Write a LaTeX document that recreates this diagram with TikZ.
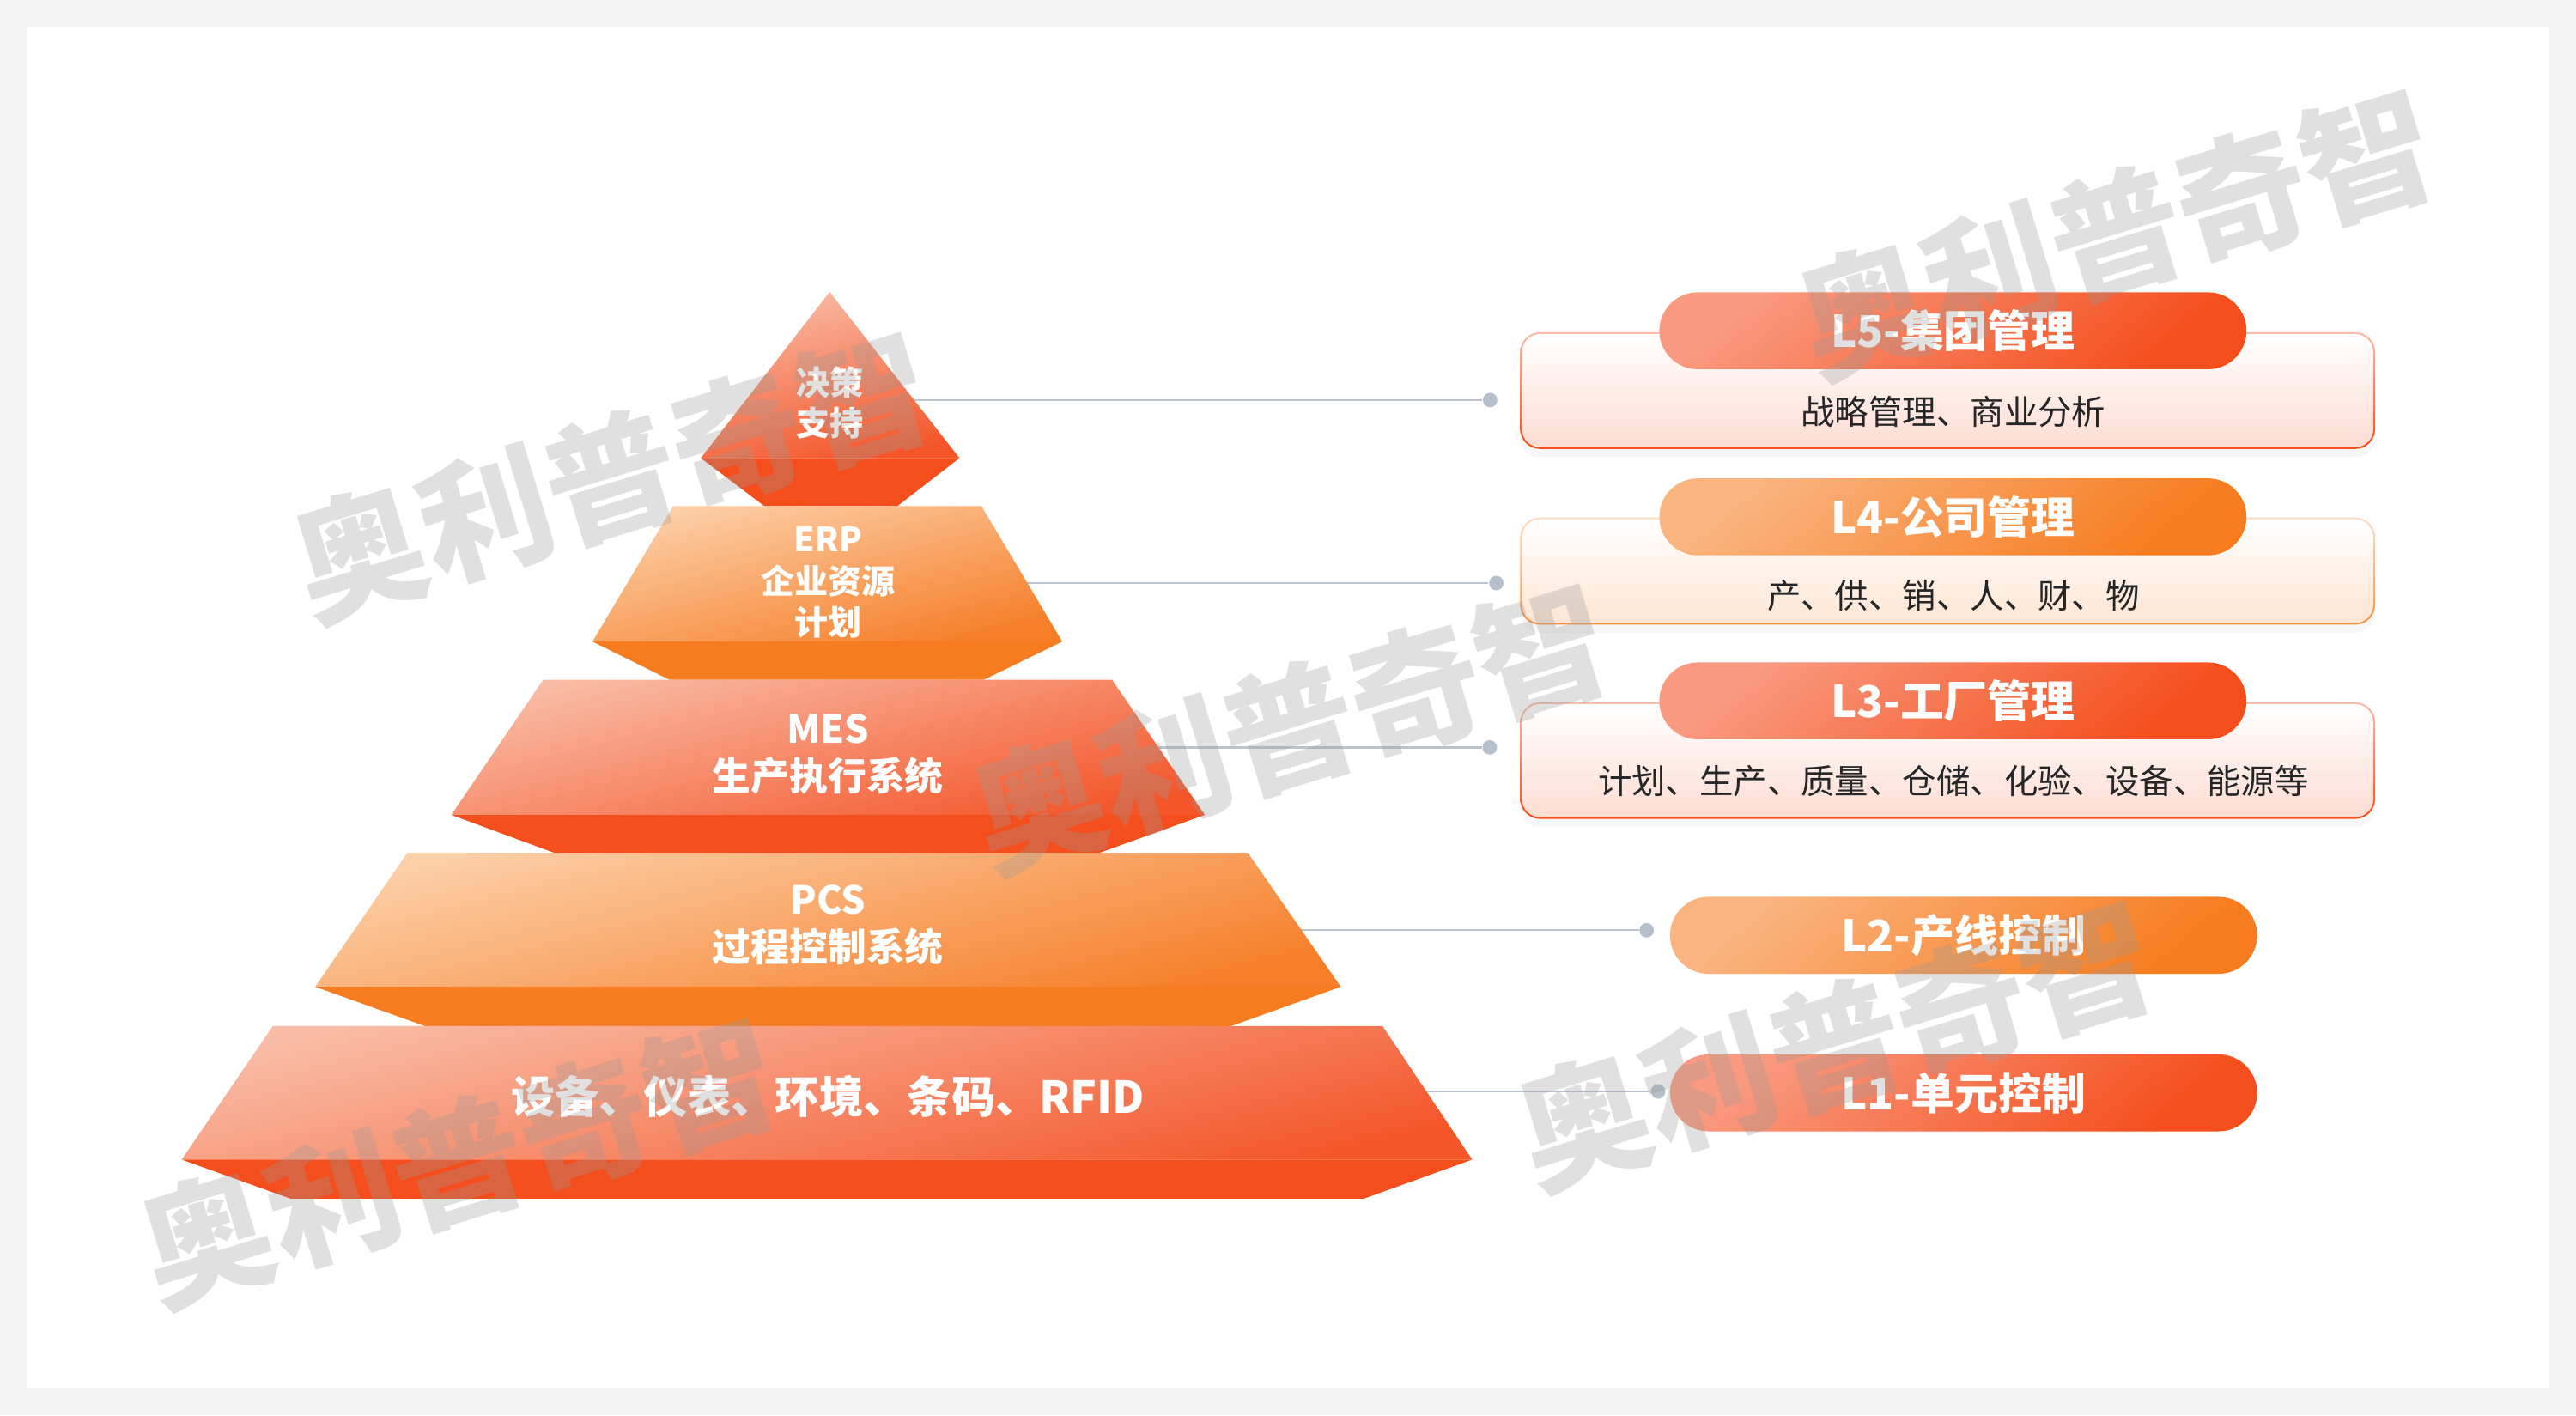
\documentclass[tikz,border=0pt]{standalone}
\usepackage{fontspec}
\setmainfont{Noto Sans CJK SC}
\usetikzlibrary{shapes.misc,shadows}

\definecolor{bgGray}{HTML}{F4F4F4}
\definecolor{redBand}{HTML}{F44E1C}
\definecolor{redLight}{HTML}{F9BCA6}
\definecolor{redDark}{HTML}{F4562A}
\definecolor{orgBand}{HTML}{F67C1F}
\definecolor{orgLight}{HTML}{FCCFA8}
\definecolor{orgDark}{HTML}{F67E28}
\definecolor{pillRed}{HTML}{F99A80}
\definecolor{pillOrg}{HTML}{FAB480}
\definecolor{lineGray}{HTML}{BCC3CE}
\definecolor{dotGray}{HTML}{B6BFCB}
\definecolor{wmGray}{HTML}{9A9A9A}
\definecolor{boxRedTop}{HTML}{FBB9A3}
\definecolor{boxRedFill}{HTML}{FCDCD2}
\definecolor{boxOrgTop}{HTML}{FDDCC6}
\definecolor{boxOrgBot}{HTML}{F8913F}
\definecolor{boxOrgFill}{HTML}{FDE5D3}

\tikzstyle{facered} = [top color=redLight, bottom color=redDark, shading angle=14]
\tikzstyle{faceorg} = [top color=orgLight, bottom color=orgDark, shading angle=14]
\tikzstyle{tier} = [text=white, font=\bfseries, align=center, inner sep=0pt]
\tikzstyle{link} = [draw=lineGray, line width=0.6pt]
\tikzstyle{dot} = [circle, fill=dotGray, inner sep=0pt, minimum size=4.4pt]
\tikzstyle{pill} = [rounded rectangle, inner sep=0pt, minimum width=178.7pt, minimum height=23.4pt, text=white, font=\bfseries\fontsize{13.3}{16}\selectfont]
\tikzstyle{redpill} = [pill, top color=pillRed, bottom color=redBand, shading angle=40]
\tikzstyle{orgpill} = [pill, top color=pillOrg, bottom color=orgBand, shading angle=40]
\tikzstyle{outerbox} = [rectangle, rounded corners=6pt, minimum width=260.2pt, minimum height=35.5pt, inner sep=0pt, drop shadow={shadow xshift=0pt, shadow yshift=-2.5pt, opacity=0.06}]
\tikzstyle{redbox} = [outerbox, top color=boxRedTop, bottom color=redBand]
\tikzstyle{orgbox} = [outerbox, top color=boxOrgTop, bottom color=boxOrgBot]
\tikzstyle{fillbox} = [rectangle, rounded corners=5.5pt, minimum width=259.1pt, inner sep=0pt]
\tikzstyle{redfill} = [fillbox, top color=white, bottom color=boxRedFill]
\tikzstyle{orgfill} = [fillbox, top color=white, bottom color=boxOrgFill]
\tikzstyle{detail} = [text=black!85, font=\fontsize{10.3}{12}\selectfont]
\tikzstyle{wmark} = [text=wmGray, text opacity=0.3, font=\bfseries\fontsize{40}{40}\selectfont, rotate=17]

\begin{document}
\begin{tikzpicture}[x=0.5pt, y=-0.5pt]
        % \draw[step=100,gray,very thin] (0,0) grid (1568,861);
        \useasboundingbox (0,0) rectangle (1568,861.35);
        \fill[bgGray] (0,0) rectangle (1568,861.35);
        \fill[white] (16.7,16.7) rectangle (1551.3,844.7);

        % connectors, behind the pyramid
        \coordinate (e5) at (556.4,243.5);
        \coordinate (e4) at (625.3,354.9);
        \coordinate (e3) at (705,454.9);
        \coordinate (e2) at (791.9,566.2);
        \coordinate (e1) at (868.3,664.3);
        \node[dot] (d5) at (907,243.5) {};
        \node[dot] (d4) at (910.8,354.9) {};
        \node[dot] (d3) at (906.8,454.9) {};
        \node[dot] (d2) at (1002.3,566.2) {};
        \node[dot] (d1) at (1009.3,664.3) {};
        \draw[link] (e5) -- (d5);
        \draw[link] (e4) -- (d4);
        \draw[link] (e3) -- (d3);
        \draw[link] (e2) -- (d2);
        \draw[link] (e1) -- (d1);

        % pyramid
        \shade[facered] (505,177.7) -- (584,278.8) -- (426.6,278.8) -- cycle;
        \fill[redBand] (426.6,278.8) -- (584,278.8) -- (546.3,308) -- (465.2,308) -- cycle;
        \shade[faceorg] (409.8,308) -- (597.4,308) -- (646.6,390.5) -- (360.6,390.5) -- cycle;
        \fill[orgBand] (360.6,390.5) -- (646.6,390.5) -- (598.7,413.8) -- (407.7,413.8) -- cycle;
        \shade[facered] (330.6,413.8) -- (676.9,413.8) -- (733.4,496) -- (274.7,496) -- cycle;
        \fill[redBand] (274.7,496) -- (733.4,496) -- (669.4,519) -- (337.2,519) -- cycle;
        \shade[faceorg] (248,519) -- (759.5,519) -- (816.1,600.6) -- (191.9,600.6) -- cycle;
        \fill[orgBand] (191.9,600.6) -- (816.1,600.6) -- (749.4,624.5) -- (258.6,624.5) -- cycle;
        \shade[facered] (166.1,624.5) -- (841.5,624.5) -- (896.1,705.8) -- (110.6,705.8) -- cycle;
        \fill[redBand] (110.6,705.8) -- (896.1,705.8) -- (830.4,729.5) -- (176.6,729.5) -- cycle;

        \node[tier, font=\bfseries\fontsize{10.2}{12.2}\selectfont] (top) at (505,245) {决策\\支持};
        \node[tier, font=\bfseries\fontsize{10.2}{12.7}\selectfont] (erp) at (504,354.6) {ERP\\企业资源\\计划};
        \node[tier, font=\bfseries\fontsize{11.7}{14.4}\selectfont] (mes) at (504,459.3) {MES\\生产执行系统};
        \node[tier, font=\bfseries\fontsize{11.7}{14.4}\selectfont] (pcs) at (504,563.2) {PCS\\过程控制系统};
        \node[tier, font=\bfseries\fontsize{13.4}{16}\selectfont] (base) at (504,667.4) {设备、仪表、环境、条码、RFID};

        % level boxes
        \node[redbox] (box5) at (1185.5,237.75) {};
        \node[redfill, minimum height=34.45pt] (fill5) at (1185.5,237.75) {};
        \node[detail] (sub5) at (1189,250.4) {战略管理、商业分析};
        \node[redpill] (L5) at (1188.7,201.3) {L5-集团管理};

        \node[orgbox, minimum height=32.6pt] (box4) at (1185.5,347.6) {};
        \node[orgfill, minimum height=31.55pt] (fill4) at (1185.5,347.6) {};
        \node[detail] (sub4) at (1189,362.7) {产、供、销、人、财、物};
        \node[orgpill] (L4) at (1188.7,314.6) {L4-公司管理};

        \node[redbox, minimum height=35.45pt] (box3) at (1185.5,462.95) {};
        \node[redfill, minimum height=34.4pt] (fill3) at (1185.5,462.95) {};
        \node[detail] (sub3) at (1189,475.3) {计划、生产、质量、仓储、化验、设备、能源等};
        \node[redpill] (L3) at (1188.7,426.6) {L3-工厂管理};

        \node[orgpill] (L2) at (1195.2,569.3) {L2-产线控制};
        \node[redpill] (L1) at (1195.2,665.2) {L1-单元控制};

        % watermark
        \node[wmark] (wm1) at (372,290) {奥利普奇智};
        \node[wmark] (wm2) at (785,443) {奥利普奇智};
        \node[wmark] (wm3) at (1288,142) {奥利普奇智};
        \node[wmark] (wm4) at (1117,636) {奥利普奇智};
        \node[wmark] (wm5) at (279,707) {奥利普奇智};
    \end{tikzpicture}
\end{document}
